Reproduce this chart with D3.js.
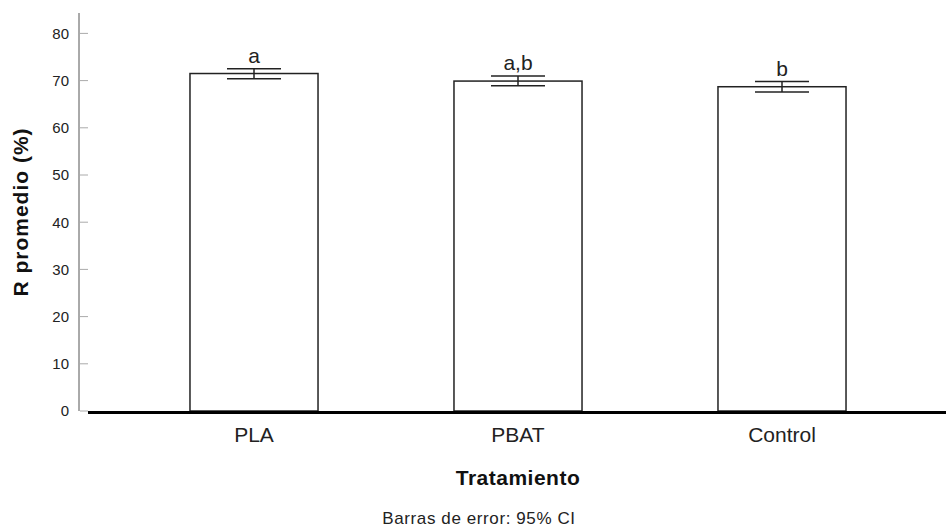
<!DOCTYPE html>
<html><head><meta charset="utf-8">
<script src="https://cdn.jsdelivr.net/npm/d3@7"></script>
<style>body{margin:0;background:#fff}svg{display:block}text{font-family:"Liberation Sans",Arial,sans-serif}</style>
</head><body>
<svg id="c" width="946" height="529"></svg>
<script>
const categories = ["PLA", "PBAT", "Control"];
const means = [71.5, 69.9, 68.7];
const ciLow = [70.4, 68.9, 67.6];
const ciHigh = [72.5, 71.0, 69.8];
const letters = ["a", "a,b", "b"];
const yTicks = [0, 10, 20, 30, 40, 50, 60, 70, 80];

const svg = d3.select("#c");
const y = d3.scaleLinear().domain([0, 80]).range([411, 33.4]);
const x = d3.scaleBand().domain(categories).range([122, 914]).paddingInner(0.515).paddingOuter(0.2575);

// y axis
const yAxis = d3.axisLeft(y).tickValues(yTicks).tickSize(0).tickPadding(10);
const gy = svg.append("g").attr("transform", "translate(79,0)").call(yAxis);
gy.select(".domain").remove();
gy.selectAll("text").attr("font-size", 15).attr("fill", "#222");
svg.append("line").attr("x1", 79).attr("x2", 79).attr("y1", 13).attr("y2", y(0)).attr("stroke", "#555").attr("stroke-width", 1);
svg.selectAll(".ytk").data(yTicks).enter().append("line")
  .attr("x1", 80).attr("x2", 88).attr("y1", d => y(d)).attr("y2", d => y(d))
  .attr("stroke", "#aaa").attr("stroke-width", 1);

// bars
svg.selectAll(".bar").data(categories).enter().append("rect")
  .attr("x", d => x(d)).attr("width", x.bandwidth())
  .attr("y", (d, i) => y(means[i])).attr("height", (d, i) => y(0) - y(means[i]))
  .attr("fill", "#fff").attr("stroke", "#222").attr("stroke-width", 1.5);

// baseline
svg.append("line").attr("x1", 88).attr("x2", 946).attr("y1", y(0) + 1.5).attr("y2", y(0) + 1.5)
  .attr("stroke", "#000").attr("stroke-width", 3);

// error bars
const cw = 27;
categories.forEach((c, i) => {
  const cx = x(c) + x.bandwidth() / 2;
  const g = svg.append("g").attr("stroke", "#222").attr("stroke-width", 1.5);
  g.append("line").attr("x1", cx).attr("x2", cx).attr("y1", y(ciHigh[i])).attr("y2", y(ciLow[i]));
  g.append("line").attr("x1", cx - cw).attr("x2", cx + cw).attr("y1", y(ciHigh[i])).attr("y2", y(ciHigh[i]));
  g.append("line").attr("x1", cx - cw).attr("x2", cx + cw).attr("y1", y(ciLow[i])).attr("y2", y(ciLow[i]));
  svg.append("text").attr("x", cx).attr("y", y(ciHigh[i]) - 5.5).attr("text-anchor", "middle")
    .attr("font-size", 21).attr("fill", "#222").text(letters[i]);
});

// x labels
const xAxis = d3.axisBottom(x).tickSize(0).tickPadding(16);
const gx = svg.append("g").attr("transform", `translate(0,${y(0)})`).call(xAxis);
gx.select(".domain").remove();
gx.selectAll("text").attr("font-size", 21).attr("fill", "#222");

svg.append("text").attr("x", 518).attr("y", 485).attr("text-anchor", "middle")
  .attr("font-size", 21).attr("letter-spacing", 0.5).attr("font-weight", "bold").attr("fill", "#111").text("Tratamiento");
svg.append("text").attr("transform", "translate(28,212) rotate(-90)").attr("text-anchor", "middle")
  .attr("font-size", 21).attr("letter-spacing", 1).attr("font-weight", "bold").attr("fill", "#111").text("R promedio (%)");
svg.append("text").attr("x", 479).attr("y", 524).attr("text-anchor", "middle")
  .attr("font-size", 17).attr("letter-spacing", 0.6).attr("fill", "#222").text("Barras de error: 95% CI");
</script>
</body></html>
